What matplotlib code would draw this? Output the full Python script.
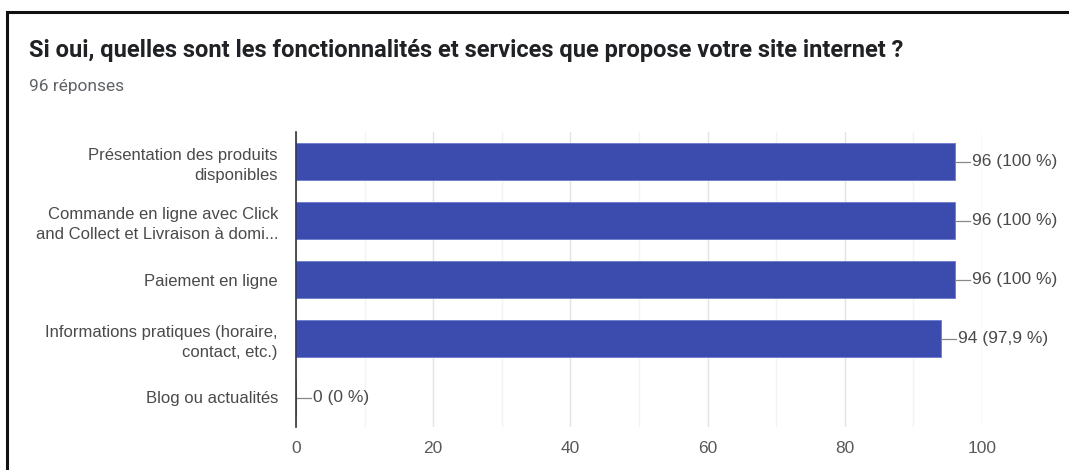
import matplotlib
matplotlib.use("Agg")
import matplotlib.pyplot as plt
from matplotlib.patches import Rectangle

# Survey results
categories = [
    "Présentation des produits\ndisponibles",
    "Commande en ligne avec Click\nand Collect et Livraison à domi...",
    "Paiement en ligne",
    "Informations pratiques (horaire,\ncontact, etc.)",
    "Blog ou actualités",
]
counts = [96, 96, 96, 94, 0]
percents = ["100", "100", "100", "97,9", "0"]
x_ticks = [0, 20, 40, 60, 80, 100]

title = "Si oui, quelles sont les fonctionnalités et services que propose votre site internet ?"
subtitle = "96 réponses"

W, H = 1069, 470
fig = plt.figure(figsize=(W / 100, H / 100), dpi=100)
fig.patch.set_facecolor("white")

# outer frame (open to the right and bottom)
fig.patches.append(Rectangle((7 / W, -0.1), 1.2, 1 - 12 / H + 0.1,
                             transform=fig.transFigure, fill=False,
                             edgecolor="#111111", linewidth=2.2, zorder=10))

fig.text(29 / W, 1 - 50 / H, title, fontsize=17, fontweight="bold",
         color="#202124", family="Roboto", va="center", ha="left")
fig.text(29 / W, 1 - 87 / H, subtitle, fontsize=12.5, color="#5f6368",
         family="Roboto", va="center", ha="left")

label_font = ["Liberation Sans", "DejaVu Sans"]

ax = fig.add_axes([296 / W, 43 / H, 686 / W, 295 / H])
y = list(range(len(categories)))
ax.barh(y, counts, height=0.62, color="#3c4bae", edgecolor="#6d7bd0",
        linewidth=0.6, zorder=3)

ax.set_ylim(len(categories) - 0.5, -0.5)
ax.set_xlim(0, 100)

ax.set_yticks(y)
ax.set_yticklabels(categories, fontsize=12, color="#4a4a4a",
                   family=label_font, linespacing=1.42)
ax.set_xticks(x_ticks)
ax.set_xticklabels([str(t) for t in x_ticks], fontsize=12.5, color="#5a5a5a",
                   family=label_font)
ax.set_xticks([10, 30, 50, 70, 90], minor=True)
ax.tick_params(axis="both", length=0, which="both")
ax.tick_params(axis="x", pad=10)
ax.tick_params(axis="y", pad=13)

ax.grid(axis="x", which="major", color="#e3e3e3", linewidth=1, zorder=0)
ax.grid(axis="x", which="minor", color="#f3f3f3", linewidth=1, zorder=0)
for side in ("top", "right", "bottom"):
    ax.spines[side].set_visible(False)
ax.spines["left"].set_color("#333333")
ax.spines["left"].set_linewidth(1.2)
ax.spines["left"].set_zorder(4)

# value labels with short leader lines
for yi, c, p in zip(y, counts, percents):
    ax.plot([c, c + 2.2], [yi, yi], color="#888888", linewidth=0.9,
            clip_on=False, zorder=4)
    ax.text(c + 2.5, yi, f"{c} ({p} %)", fontsize=12.5, color="#4a4a4a",
            family=label_font, va="center", ha="left", clip_on=False)

fig.savefig("out.png", dpi=100)
